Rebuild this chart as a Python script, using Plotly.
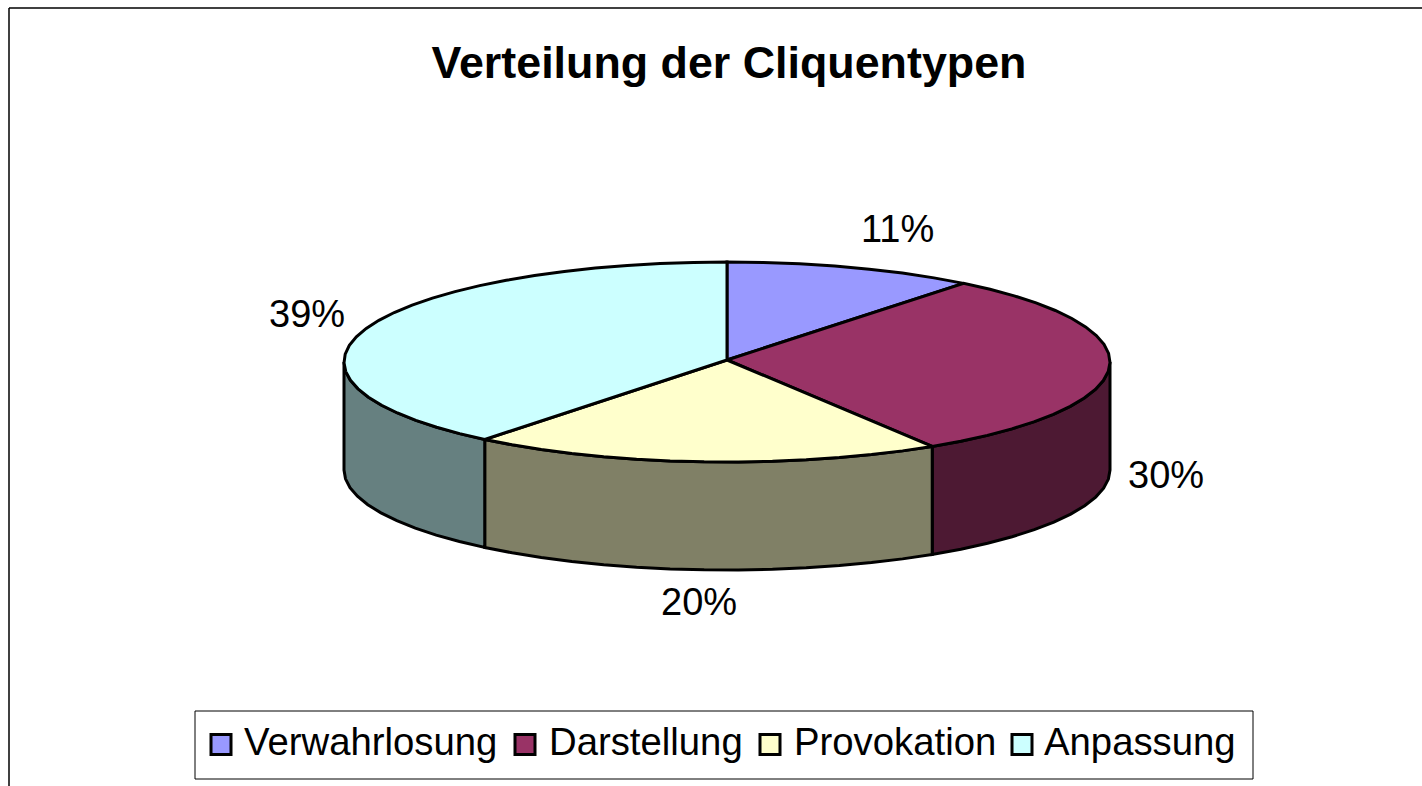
import plotly.graph_objects as go
import math

categories = ["Verwahrlosung", "Darstellung", "Provokation", "Anpassung"]
shares = [10.6, 30.4, 19.9, 39.1]
top_colors = ["#9999FF", "#993366", "#FFFFCC", "#CCFFFF"]
side_colors = ["#4D4D80", "#4D1933", "#808066", "#668080"]
title_text = "Verteilung der Cliquentypen"

W, H = 1422, 786
CX, CY, RX, RY, DEPTH = 727, 362, 383, 100, 108
APEX_Y = 360
# pixel offsets of each percent label from the rim point at its slice's middle angle
LABEL_SHIFT = [(45, -38), (56, 0), (-5, 32), (-59, -14)]
# legend layout, in pixels
LEGEND_BOX = (195, 711, 1253, 779)
LEGEND_KEY_X = [221, 525, 770, 1022]
LEGEND_TEXT_X = [242, 547, 792, 1042]
LEGEND_KEY_Y = 744.5
LEGEND_TEXT_Y = 741


def rim(deg, drop=0.0):
    t = math.radians(deg)
    return CX + RX * math.sin(t), CY - RY * math.cos(t) + drop


def arc(a, b, drop=0.0, step=5.0):
    n = max(1, int(abs(b - a) / step))
    return [rim(a + (b - a) * i / n, drop) for i in range(n + 1)]


total = sum(shares)
edges = [0.0]
for v in shares:
    edges.append(edges[-1] + 360.0 * v / total)

fig = go.Figure()


def poly(points, color):
    fig.add_trace(go.Scatter(
        x=[p[0] for p in points], y=[p[1] for p in points],
        mode="lines", fill="toself", fillcolor=color,
        line=dict(color="#000000", width=3, simplify=False),
        showlegend=False, hoverinfo="skip"))


# side walls: only the front half of the disc (90..270 degrees) is visible
for i, color in enumerate(side_colors):
    a, b = max(edges[i], 90.0), min(edges[i + 1], 270.0)
    if a >= b:
        continue
    poly(arc(a, b) + arc(b, a, DEPTH) + [rim(a)], color)

# top faces
for i, color in enumerate(top_colors):
    poly([(CX, APEX_Y)] + arc(edges[i], edges[i + 1]) + [(CX, APEX_Y)], color)

# percent labels
for i, v in enumerate(shares):
    mid = (edges[i] + edges[i + 1]) / 2
    drop = DEPTH if 90 < mid < 270 else 0
    x, y = rim(mid, drop)
    fig.add_annotation(x=x, y=y, text=f"{v:.0f}%", showarrow=False,
                       xshift=LABEL_SHIFT[i][0], yshift=-LABEL_SHIFT[i][1],
                       font=dict(family="Liberation Sans", size=38, color="#000000"))

# legend frame, keys and labels
fig.add_shape(type="rect", x0=LEGEND_BOX[0], y0=LEGEND_BOX[1], x1=LEGEND_BOX[2], y1=LEGEND_BOX[3],
              line=dict(color="#000000", width=1), fillcolor="#FFFFFF", layer="below")
for name, color, kx, tx in zip(categories, top_colors, LEGEND_KEY_X, LEGEND_TEXT_X):
    fig.add_trace(go.Scatter(
        x=[kx], y=[LEGEND_KEY_Y], mode="markers", name=name, showlegend=False,
        marker=dict(symbol="square", size=20, color=color,
                    line=dict(color="#000000", width=3))))
    fig.add_annotation(x=tx, y=LEGEND_TEXT_Y, text=name, showarrow=False, xanchor="left",
                       yanchor="middle", font=dict(family="Liberation Sans", size=38.3, color="#000000"))

# outer frame: top and left only, as in the cropped picture
fig.add_shape(type="line", x0=9, x1=W, y0=8, y1=8, line=dict(color="#000000", width=1.5))
fig.add_shape(type="line", x0=9, x1=9, y0=8, y1=H, line=dict(color="#000000", width=1.5))

fig.update_layout(
    width=W, height=H, autosize=False,
    margin=dict(l=0, r=0, t=0, b=0),
    paper_bgcolor="#FFFFFF", plot_bgcolor="#FFFFFF",
    title=dict(text=f"<b>{title_text}</b>", x=729 / W, xanchor="center",
               y=1 - 62 / H, yanchor="middle",
               font=dict(family="Liberation Sans", size=44.8, color="#000000")),
    xaxis=dict(range=[0, W], visible=False, fixedrange=True),
    yaxis=dict(range=[H, 0], visible=False, fixedrange=True),
    showlegend=False,
)

fig.write_html("out.html", config={"displayModeBar": False},
               post_script="document.body.style.margin='0';document.body.style.overflow='hidden';")
